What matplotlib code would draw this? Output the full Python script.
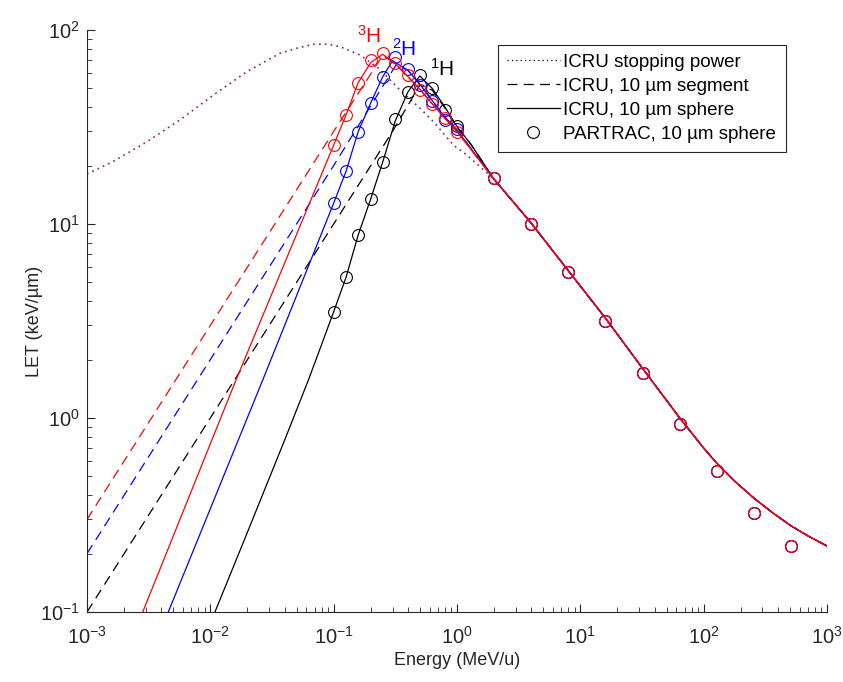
import matplotlib
matplotlib.use('Agg')
import matplotlib.pyplot as plt
from matplotlib.lines import Line2D

plt.rcParams['font.family'] = ['Liberation Sans', 'DejaVu Sans']
plt.rcParams['mathtext.default'] = 'regular'

# stopping power (same curve in MeV/u for all three isotopes), low energy part
sp_E = [0.001, 0.00163, 0.00305, 0.00567, 0.0106, 0.0197, 0.0367, 0.05, 0.0684, 0.09,
        0.113, 0.164, 0.231, 0.367, 0.502, 0.664, 0.935, 1.2]
sp_let = [18.1, 21.0, 26.5, 34.4, 46.2, 60.9, 75.8, 80.5, 84.4, 84.5,
          82.0, 74.3, 63.5, 47.2, 39.5, 33.0, 25.5, 22.7]

# common high energy part of the ICRU lines
tail_E = [2, 4, 8, 16, 32, 64, 100, 128, 180, 256, 360, 512, 700, 1000]
tail_let = [17.0, 10.1, 5.74, 3.27, 1.80, 1.00, 0.70, 0.584, 0.47, 0.386, 0.326, 0.278,
            0.247, 0.219]

# 10 um segment, low energy part (up to the peak)
h1_seg_E = [0.001, 0.01, 0.1, 0.3, 0.5, 0.63, 0.8, 1.0, 1.3]
h1_seg = [0.1, 1.0, 10.0, 30.0, 52.0, 49.0, 39.5, 31.5, 25.7]
h2_seg_E = [0.001, 0.01, 0.1, 0.32, 0.4, 0.5, 0.63, 0.8, 1.0]
h2_seg = [0.2, 2.0, 20.0, 66.0, 62.0, 52.5, 43.3, 35.5, 30.5]
h3_seg_E = [0.001, 0.01, 0.1, 0.25, 0.316, 0.4, 0.5, 0.63, 0.8, 1.0]
h3_seg = [0.3, 3.0, 30.0, 74.0, 67.0, 57.5, 49.5, 41.6, 35.0, 30.0]

# 10 um sphere
h1_sph_E = [0.0109, 0.0191, 0.0404, 0.0624, 0.08, 0.1, 0.126, 0.158, 0.2, 0.25, 0.316,
            0.4, 0.5, 0.63, 0.8, 1.0, 1.3]
h1_sph = [0.1, 0.24, 0.78, 1.57, 2.4, 3.53, 5.31, 8.77, 13.5, 20.9, 34.0,
          48.0, 58.0, 50.0, 40.0, 31.8, 25.7]
h2_sph_E = [0.00456, 0.0266, 0.1, 0.126, 0.158, 0.2, 0.25, 0.3,
            0.4, 0.5, 0.63, 0.8, 1.0]
h2_sph = [0.1, 1.57, 12.8, 18.7, 29.9, 42.2, 57.4, 69.5,
          62.0, 52.5, 43.3, 35.5, 30.5]
h3_sph_E = [0.00283, 0.01615, 0.1, 0.126, 0.158, 0.2, 0.25, 0.316,
            0.4, 0.5, 0.63, 0.8, 1.0]
h3_sph = [0.1, 1.57, 25.5, 36.5, 53.5, 68.0, 75.0, 67.0,
          57.5, 49.5, 41.6, 35.0, 30.0]

# PARTRAC, 10 um sphere
pt_E = [0.1, 0.126, 0.158, 0.2, 0.251, 0.316, 0.398, 0.501, 0.631, 0.794, 1.0]
h1_pt = [3.53, 5.31, 8.77, 13.5, 20.9, 34.7, 48.1, 58.7, 50.0, 38.9, 31.9]
h2_pt = [12.8, 18.7, 29.9, 42.2, 57.4, 72.2, 62.7, 52.0, 43.3, 34.4, 30.8]
h3_pt = [25.5, 36.5, 53.5, 70.0, 76.4, 67.3, 58.6, 49.0, 41.6, 35.1, 29.9]
pt_tail_E = [2, 4, 8, 16, 32, 64, 128, 256, 512]
pt_tail = [17.2, 10.0, 5.64, 3.16, 1.70, 0.93, 0.535, 0.325, 0.219]

fig = plt.figure(figsize=(8.43, 6.82), dpi=100)
ax = fig.add_axes([0.1032, 0.1026, 0.8778, 0.8534])

lw = 0.9
ax.plot(sp_E + tail_E, sp_let + tail_let, color='#931a62', lw=1.2, dashes=(1, 2.5))

iso = [('k', h1_seg_E, h1_seg, h1_sph_E, h1_sph, h1_pt),
       ('b', h2_seg_E, h2_seg, h2_sph_E, h2_sph, h2_pt),
       ('r', h3_seg_E, h3_seg, h3_sph_E, h3_sph, h3_pt)]
for c, sE, s, spE, sph, pt in iso:
    ax.plot(sE + tail_E, s + tail_let, color=c, lw=lw, dashes=(8, 5))
    ax.plot(spE + tail_E, sph + tail_let, color=c, lw=lw)
    ax.plot(pt_E + pt_tail_E, pt + pt_tail, 'o', color=c, mfc='none', ms=8.5, mew=0.8)

ax.set_xscale('log')
ax.set_yscale('log')
ax.set_xlim(1e-3, 1e3)
ax.set_ylim(0.1, 100)
ax.spines['top'].set_visible(False)
ax.spines['right'].set_visible(False)
for sp in ['left', 'bottom']:
    ax.spines[sp].set_color('#262626')
    ax.spines[sp].set_linewidth(0.8)
ax.tick_params(which='both', direction='in', colors='#262626', labelsize=14.5)
ax.tick_params(which='major', length=6)
ax.tick_params(which='minor', length=3.5)
ax.tick_params(axis='x', pad=10)
ax.tick_params(axis='y', pad=5)

ax.set_xlabel('Energy (MeV/u)', fontsize=13, color='#262626', labelpad=3)
ax.set_ylabel('LET (keV/µm)', fontsize=13, color='#262626', labelpad=-2)

ax.text(0.194, 93, '$^{3}$H', color='r', fontsize=15, ha='center', va='center')
ax.text(0.37, 80, '$^{2}$H', color='b', fontsize=15, ha='center', va='center')
ax.text(0.76, 63, '$^{1}$H', color='k', fontsize=15, ha='center', va='center')

handles = [Line2D([], [], color='k', lw=lw, dashes=(1, 2.5)),
           Line2D([], [], color='k', lw=lw, dashes=(8, 5)),
           Line2D([], [], color='k', lw=lw),
           Line2D([], [], color='k', ls='none', marker='o', mfc='none', ms=8.5, mew=0.8)]
labels = ['ICRU stopping power', 'ICRU, 10 µm segment', 'ICRU, 10 µm sphere',
          'PARTRAC, 10 µm sphere']
leg = ax.legend(handles, labels, loc='upper right', bbox_to_anchor=(0.944, 0.975),
                fontsize=13.5, fancybox=False, framealpha=1, edgecolor='#262626',
                handlelength=2.8, handletextpad=0.2, borderpad=0.5, labelspacing=0.36,
                borderaxespad=0)
leg.get_frame().set_linewidth(0.8)

fig.savefig('out.png', dpi=100)
